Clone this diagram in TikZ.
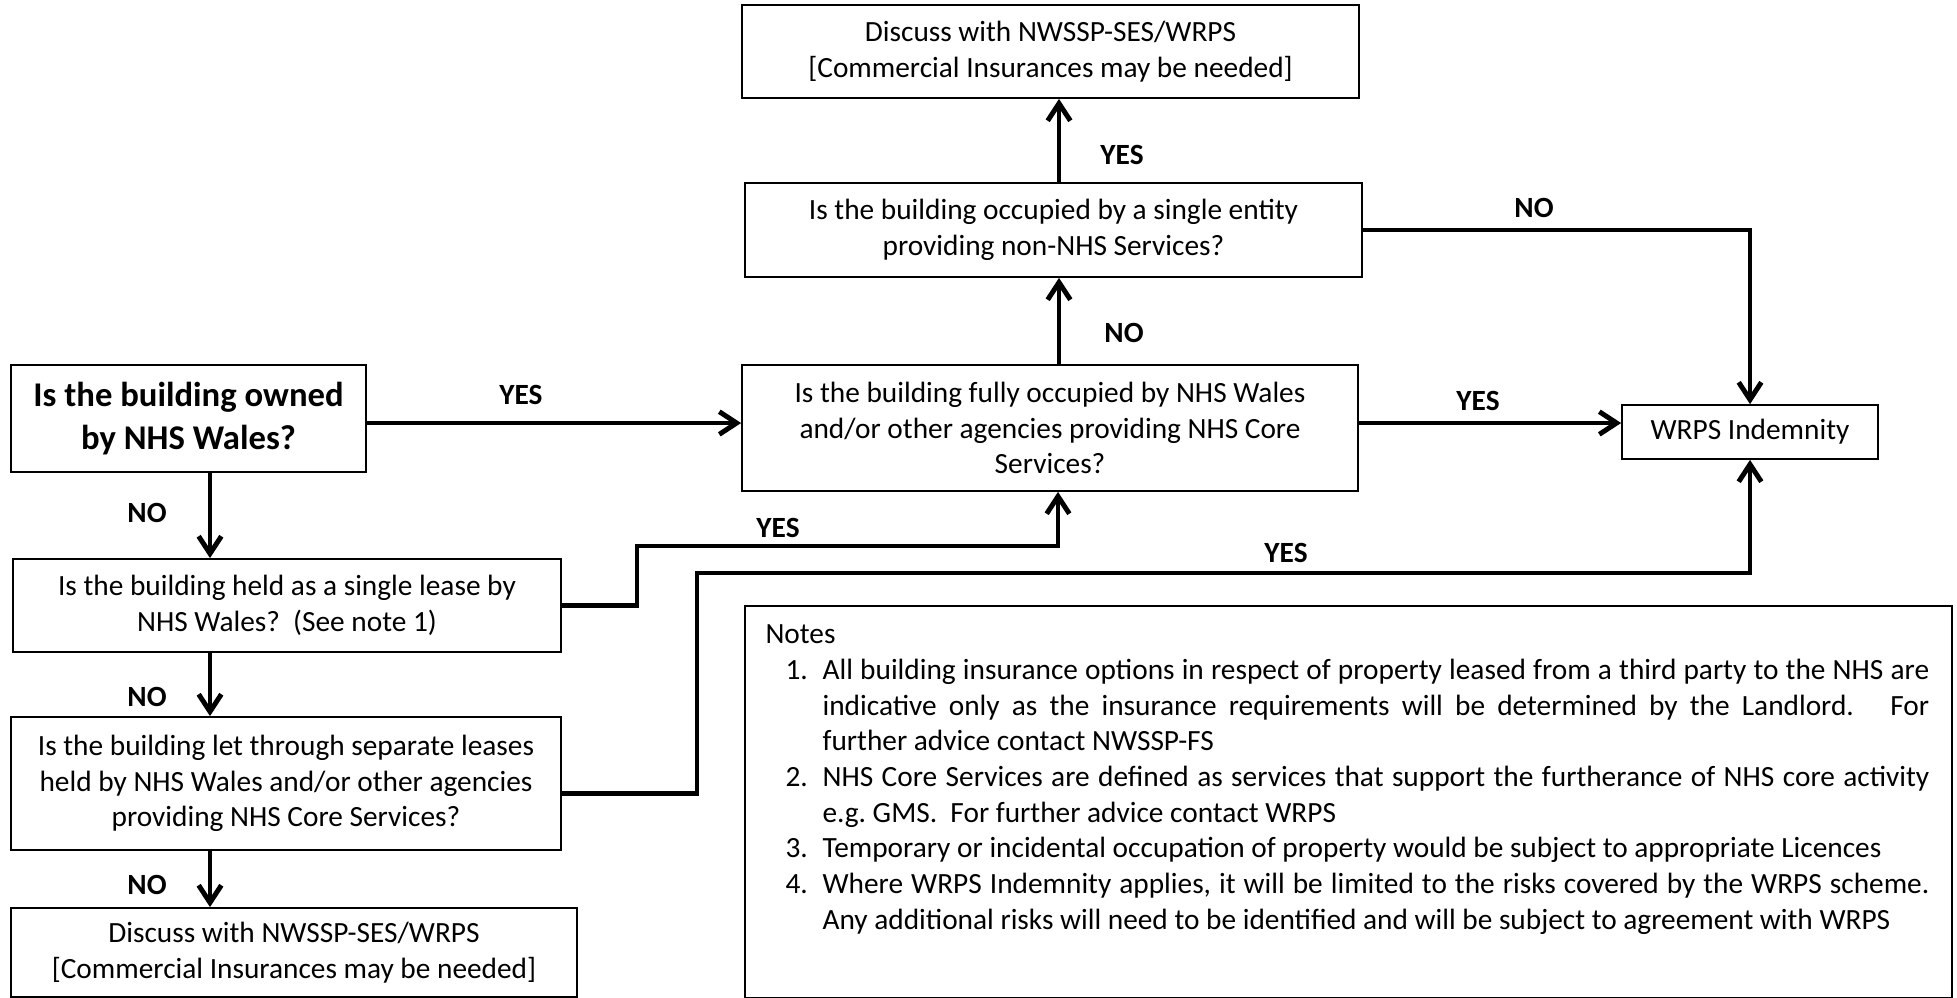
\documentclass[tikz,border=0pt]{standalone}
\usepackage{fontspec}
\setmainfont{Carlito}
\usetikzlibrary{arrows.meta}
\begin{document}
\frenchspacing
\begin{tikzpicture}[x=0.375pt,y=-0.375pt,
  box/.style={draw,line width=0.65pt,align=center,inner sep=0pt,font=\fontsize{11}{13.4}\selectfont},
  conn/.style={line width=1.85pt,-{Straight Barb[length=6.5pt,width=8.5pt]}},
  lbl/.style={font=\bfseries\fontsize{11}{13.4}\selectfont,inner sep=0pt}]
\useasboundingbox (0,0) rectangle (1957,997);

% boxes
\node[box,minimum width=133.1pt,minimum height=40.1pt,font=\bfseries\fontsize{13}{16}\selectfont] (A) at (188.5,418.5) {Is the building owned\\by NHS Wales?};
\node[box,minimum width=205.5pt,minimum height=34.9pt] (B) at (287,605.5) {Is the building held as a single lease by\\NHS Wales?\ \ (See note 1)};
\node[box,minimum width=206.3pt,minimum height=49.9pt] (C) at (286,783.5) {Is the building let through separate leases\\held by NHS Wales and/or other agencies\\providing NHS Core Services?};
\node[box,minimum width=212.3pt,minimum height=33.4pt] (D) at (294,952.5) {Discuss with NWSSP-SES/WRPS\\{[Commercial Insurances may be needed]}};
\node[box,minimum width=231pt,minimum height=47.25pt] (E) at (1050,428) {Is the building fully occupied by NHS Wales\\and/or other agencies providing NHS Core\\Services?};
\node[box,minimum width=231.4pt,minimum height=35.25pt] (F) at (1053.5,230) {Is the building occupied by a single entity\\providing non-NHS Services?};
\node[box,minimum width=231.4pt,minimum height=34.9pt] (G) at (1050.5,51.5) {Discuss with NWSSP-SES/WRPS\\{[Commercial Insurances may be needed]}};
\node[box,minimum width=96pt,minimum height=20.25pt] (H) at (1750,432) {WRPS Indemnity};

% notes
\node[draw,line width=0.8pt,anchor=north west,minimum width=452.6pt,minimum height=147pt,inner sep=0pt] (notesbox) at (744,605) {};
\node[anchor=north west,inner sep=0pt,align=left,font=\fontsize{11}{13.4}\selectfont] (notes) at (765,618) {%
\strut Notes\\
\hspace*{7.5pt}\makebox[13.9pt][l]{1.}\makebox[415pt][s]{All building insurance options in respect of property leased from a third party to the NHS are}\\
\hspace*{21.4pt}\makebox[415pt][s]{indicative only as the insurance requirements will be determined by the Landlord.\ \ \ For}\\
\hspace*{21.4pt}further advice contact NWSSP-FS\\
\hspace*{7.5pt}\makebox[13.9pt][l]{2.}\makebox[415pt][s]{NHS Core Services are defined as services that support the furtherance of NHS core activity}\\
\hspace*{21.4pt}e.g. GMS.\ \ For further advice contact WRPS\\
\hspace*{7.5pt}\makebox[13.9pt][l]{3.}Temporary or incidental occupation of property would be subject to appropriate Licences\\
\hspace*{7.5pt}\makebox[13.9pt][l]{4.}\makebox[415pt][s]{Where WRPS Indemnity applies, it will be limited to the risks covered by the WRPS scheme.}\\
\hspace*{21.4pt}Any additional risks will need to be identified and will be subject to agreement with WRPS};

% helper coordinates
\coordinate (vx) at (210,0);
\coordinate (ux) at (1059,0);
\coordinate (ay) at (0,423);
\coordinate (bx) at (637,546);
\coordinate (by) at (1058,546);
\coordinate (cx) at (697,573);

% connectors
\draw[conn] (A.east |- ay) -- (E.west |- ay);
\draw[conn] (E.east |- ay) -- (H.west |- ay);
\draw[conn] (A.south -| vx) -- (B.north -| vx);
\draw[conn] (B.south -| vx) -- (C.north -| vx);
\draw[conn] (C.south -| vx) -- (D.north -| vx);
\draw[conn] (B.east) -| (bx) -- (by) -- (by |- E.south);
\draw[conn] ([yshift=-3.6pt]C.east) -| (cx) -- (cx -| H.south) -- (H.south);
\draw[conn] (E.north -| ux) -- (F.south -| ux);
\draw[conn] (F.north -| ux) -- (G.south -| ux);
\draw[conn] (F.east) -| (H.north);

% labels
\node[lbl] (l1) at (521,395) {YES};
\node[lbl] (l2) at (147,513) {NO};
\node[lbl] (l3) at (147,697) {NO};
\node[lbl] (l4) at (147,885) {NO};
\node[lbl] (l5) at (778,528) {YES};
\node[lbl] (l6) at (1286,553) {YES};
\node[lbl] (l7) at (1124,333) {NO};
\node[lbl] (l8) at (1122,155) {YES};
\node[lbl] (l9) at (1478,401) {YES};
\node[lbl] (l10) at (1534,208) {NO};
\end{tikzpicture}
\end{document}
